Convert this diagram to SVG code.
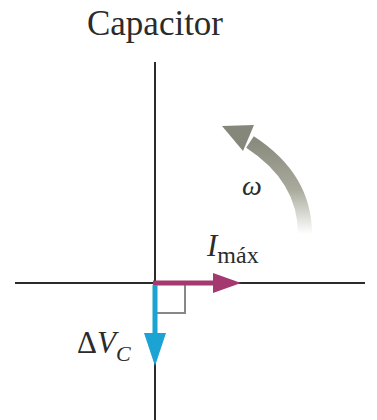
<svg xmlns="http://www.w3.org/2000/svg" width="377" height="420" viewBox="0 0 377 420">
<style>
.axis{stroke:#2b2b2b;stroke-width:2;fill:none}
.lbl{font-family:"Liberation Serif","DejaVu Serif",serif;fill:#2b2b2b}
.it{font-style:italic}
</style>
<defs>
<linearGradient id="g" x1="0" y1="234" x2="0" y2="135" gradientUnits="userSpaceOnUse">
<stop offset="0" stop-color="#ffffff"/>
<stop offset="0.45" stop-color="#a9aa9c"/>
<stop offset="1" stop-color="#85877a"/>
</linearGradient>
</defs>
<rect width="377" height="420" fill="#fff"/>
<text class="lbl" x="155" y="35" font-size="35" text-anchor="middle">Capacitor</text>
<g id="axes">
<line class="axis" x1="155" y1="62" x2="155" y2="420"/>
<line class="axis" x1="15" y1="283" x2="365" y2="283"/>
</g>
<g id="rightangle">
<polyline points="185,285 185,313 157,313" fill="none" stroke="#888" stroke-width="2"/>
</g>
<g id="connectors">
<g id="rotation">
<path d="M305,234 C305,200 290,168 250,142" fill="none" stroke="url(#g)" stroke-width="14"/>
<polygon points="222,126 254,125 243,151" fill="#85877a"/>
</g>
<g id="imax">
<line x1="153" y1="283" x2="220" y2="283" stroke="#a3396f" stroke-width="5"/>
<polygon points="213,273 241,283 213,293" fill="#a3396f"/>
</g>
<g id="vc">
<line x1="155" y1="285" x2="155" y2="336" stroke="#1ba3d3" stroke-width="5"/>
<polygon points="144,333 166,333 155,366" fill="#1ba3d3"/>
</g>
</g>
<g id="labels">
<text class="lbl it" x="242" y="195" font-size="28">ω</text>
<text class="lbl" x="207" y="256" font-size="31"><tspan class="it">I</tspan><tspan font-size="24" dy="7" dx="0">máx</tspan></text>
<text class="lbl" x="77" y="353" font-size="31">Δ<tspan class="it">V</tspan><tspan class="it" font-size="22" dy="8">C</tspan></text>
</g>
</svg>
